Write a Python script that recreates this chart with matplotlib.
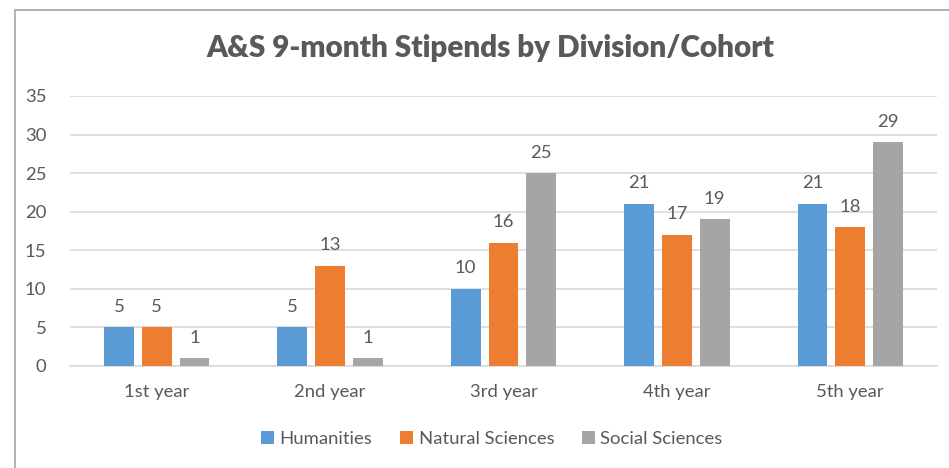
import numpy as np
import matplotlib.pyplot as plt
from matplotlib.patches import Rectangle

cohorts = ['1st year', '2nd year', '3rd year', '4th year', '5th year']
humanities = [5, 5, 10, 21, 21]
natural = [5, 13, 16, 17, 18]
social = [1, 1, 25, 19, 29]

series = [('Humanities', humanities, '#5B9BD5'),
          ('Natural Sciences', natural, '#ED7D31'),
          ('Social Sciences', social, '#A5A5A5')]

plt.rcParams['font.family'] = ['Lato', 'DejaVu Sans']
txt = '#595959'
fs = 13.3

fig = plt.figure(figsize=(9.49, 4.68), dpi=100)
fig.patches.append(Rectangle((15 / 949, -0.1), 1.2, 1 - 10 / 468 + 0.1,
                             transform=fig.transFigure, fill=False,
                             edgecolor='#A6A6A6', linewidth=1.2))

ax = fig.add_axes([70 / 949, 1 - 366 / 468, (937 - 70) / 949, (366 - 96) / 468])
x = np.arange(len(cohorts))
w = 0.172
step = 0.218
for i, (name, vals, col) in enumerate(series):
    bars = ax.bar(x + (i - 1) * step, vals, w, color=col, label=name, zorder=3)
    for b, v in zip(bars, vals):
        ax.annotate(str(v), (b.get_x() + b.get_width() / 2, v),
                    xytext=(0, 9), textcoords='offset points',
                    ha='center', va='bottom', fontsize=fs, color=txt)

ax.set_xlim(-0.5, len(cohorts) - 0.5)
ax.set_ylim(0, 35)
ax.set_yticks(range(0, 36, 5))
ax.grid(axis='y', color='#D9D9D9', linewidth=1.2, zorder=0)
for s in ['top', 'right', 'left']:
    ax.spines[s].set_visible(False)
ax.spines['bottom'].set_color('#D9D9D9')
ax.spines['bottom'].set_linewidth(1.2)
ax.set_xticks(x)
ax.set_xticklabels(cohorts)
ax.tick_params(length=0, labelsize=fs, colors=txt)
ax.tick_params(axis='x', pad=13)
ax.tick_params(axis='y', pad=17)

fig.text(490 / 949, 1 - 48 / 468, 'A&S 9-month Stipends by Division/Cohort',
         ha='center', va='center', fontsize=21.3, fontweight='heavy', color=txt)

fig.legend(loc='center', bbox_to_anchor=(492 / 949, 1 - 439 / 468), ncol=3,
           frameon=False, fontsize=fs, labelcolor=txt, handlelength=0.7,
           handleheight=0.7, handletextpad=0.3, columnspacing=1.5)

fig.savefig('out.png', dpi=100)
